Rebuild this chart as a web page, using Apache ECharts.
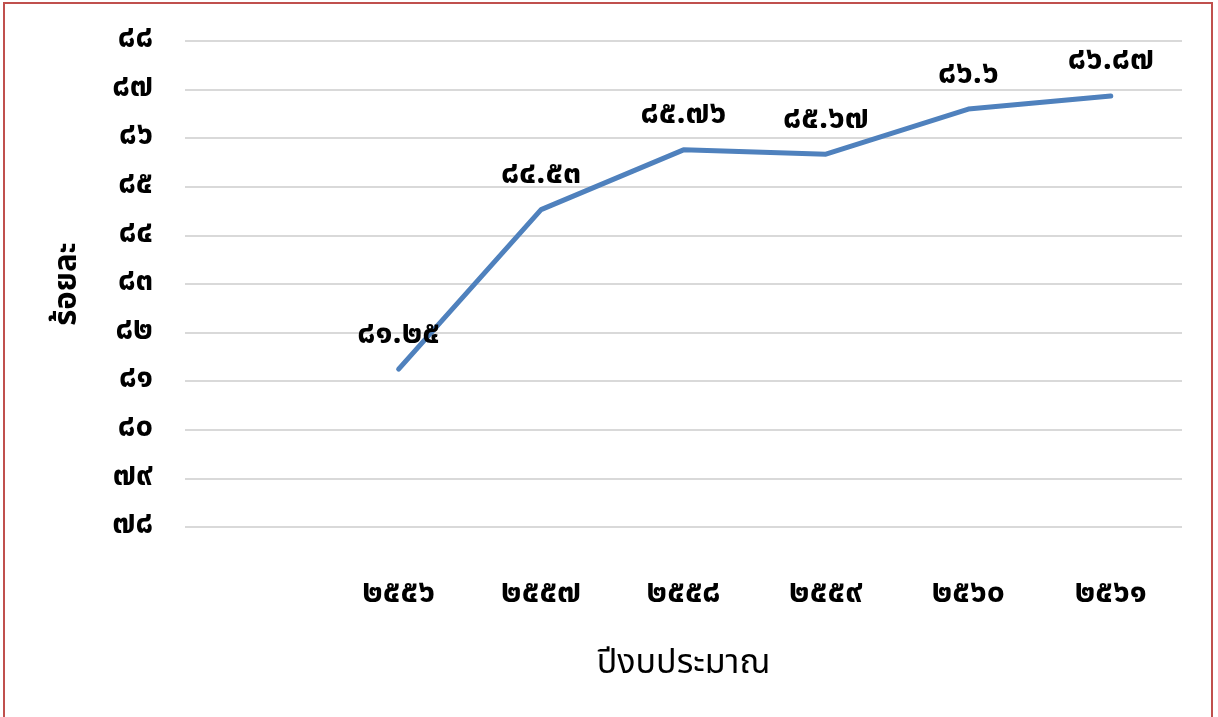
<!DOCTYPE html>
<html>
<head>
<meta charset="utf-8">
<script src="https://cdn.jsdelivr.net/npm/echarts@6/dist/echarts.min.js"></script>
<style>
  html, body { margin: 0; padding: 0; background: #fff; }
  #chart { width: 1218px; height: 717px; }
  #frame { position: absolute; left: 3px; top: 2px; width: 1206px; height: 730px; border: 2px solid #c0504d; pointer-events: none; }
</style>
</head>
<body>
<div id="chart"></div>
<div id="frame"></div>
<script>
// ปีงบประมาณ (first slot is empty, as in the original)
const years = ['', '๒๕๕๖', '๒๕๕๗', '๒๕๕๘', '๒๕๕๙', '๒๕๖๐', '๒๕๖๑'];
// ร้อยละ
const values = [null, 81.25, 84.53, 85.76, 85.67, 86.6, 86.87];
const yMin = 78, yMax = 88;

const thaiDigits = ['๐', '๑', '๒', '๓', '๔', '๕', '๖', '๗', '๘', '๙'];
function toThai(v) {
  return String(v).replace(/[0-9]/g, d => thaiDigits[+d]);
}

const font = "'Noto Sans Thai', 'Noto Sans', 'DejaVu Sans', sans-serif";

const chart = echarts.init(document.getElementById('chart'));
chart.setOption({
  animation: false,
  textStyle: { fontFamily: font },
  grid: { left: 185, right: 36, top: 41, bottom: 190 },
  xAxis: {
    type: 'category',
    data: years,
    boundaryGap: true,
    axisLine: { show: false },
    axisTick: { show: false },
    axisLabel: { margin: 53, fontSize: 32, fontWeight: 'bold', color: '#000', fontFamily: font },
    name: 'ปีงบประมาณ',
    nameLocation: 'middle',
    nameGap: 122,
    nameTextStyle: { fontSize: 34, color: '#000', fontFamily: font }
  },
  yAxis: {
    type: 'value',
    min: yMin,
    max: yMax,
    interval: 1,
    axisLine: { show: false },
    axisTick: { show: false },
    splitLine: { lineStyle: { color: '#d9d9d9', width: 2 } },
    axisLabel: { margin: 32, fontSize: 31, fontWeight: 'bold', color: '#000', fontFamily: font, formatter: v => toThai(v) },
    name: 'ร้อยละ',
    nameLocation: 'middle',
    nameGap: 100,
    nameTextStyle: { fontSize: 31, fontWeight: 'bold', color: '#000', fontFamily: font }
  },
  series: [{
    type: 'line',
    data: values,
    symbol: 'circle',
    symbolSize: 0,
    lineStyle: { color: '#4f81bd', width: 5, cap: 'round' },
    itemStyle: { color: '#4f81bd' },
    label: {
      show: true,
      position: 'top',
      distance: 17,
      fontSize: 32,
      fontWeight: 'bold',
      color: '#000',
      fontFamily: font,
      formatter: p => toThai(p.value)
    }
  }]
});
</script>
</body>
</html>
